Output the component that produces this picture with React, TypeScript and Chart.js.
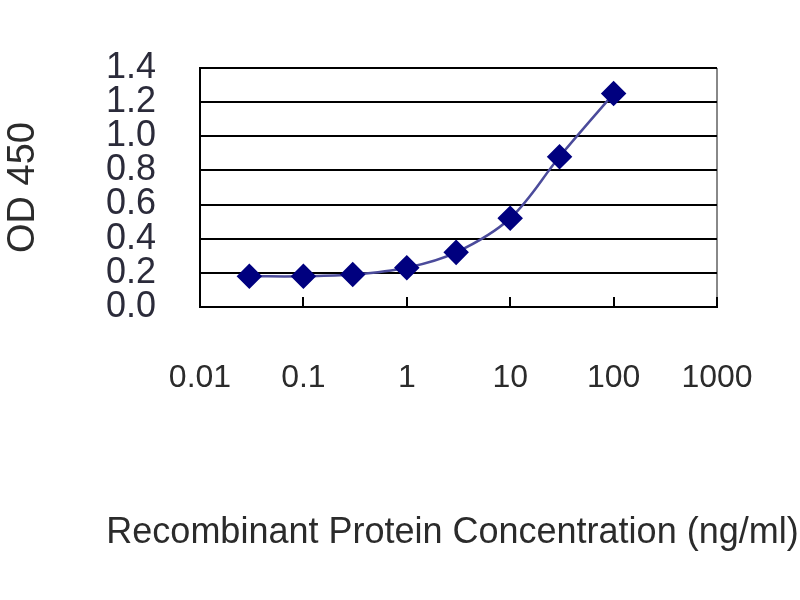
import React, { useEffect, useRef } from "react";
import { Chart, registerables } from "chart.js";

Chart.register(...registerables);

const concentrations = [0.03, 0.1, 0.3, 1, 3, 10, 30, 100];
const odValues = [0.18, 0.18, 0.19, 0.23, 0.32, 0.52, 0.88, 1.25];
const xTickValues = [0.01, 0.1, 1, 10, 100, 1000];
const xTickLabels = ["0.01", "0.1", "1", "10", "100", "1000"];
const yTitle = "OD 450";
const xTitle = "Recombinant Protein Concentration (ng/ml)";

const FONT = "'Liberation Sans', Arial, sans-serif";

const xTitlePlugin = {
  id: "xTitlePlugin",
  afterDraw(chart: any) {
    const ctx = chart.ctx;
    const area = chart.chartArea;
    ctx.save();
    ctx.font = `36px ${FONT}`;
    ctx.fillStyle = "#2b2b2b";
    ctx.textAlign = "center";
    ctx.textBaseline = "middle";
    ctx.fillText(xTitle, (area.left + area.right) / 2 - 6, 533);
    ctx.restore();
  },
};

export default function App() {
  const ref = useRef<HTMLCanvasElement | null>(null);

  useEffect(() => {
    if (!ref.current) return;
    const chart = new Chart(ref.current, {
      type: "line",
      data: {
        datasets: [
          {
            data: concentrations.map((x, i) => ({ x, y: odValues[i] })),
            borderColor: "#4b4b9b",
            borderWidth: 2.5,
            backgroundColor: "#00007f",
            pointBackgroundColor: "#00007f",
            pointBorderColor: "#00007f",
            pointStyle: "rectRot",
            pointRadius: 11,
            tension: 0.35,
            fill: false,
          },
        ],
      },
      options: {
        animation: false,
        responsive: false,
        maintainAspectRatio: false,
        layout: { padding: { top: 68, right: 83, left: 0, bottom: 0 } },
        plugins: { legend: { display: false }, tooltip: { enabled: false } },
        scales: {
          x: {
            type: "logarithmic",
            min: 0.01,
            max: 1000,
            afterBuildTicks: (scale: any) => {
              scale.ticks = xTickValues.map((v) => ({ value: v }));
            },
            afterFit: (scale: any) => {
              scale.height = 600 - 307;
              scale.paddingLeft = 0;
              scale.paddingRight = 0;
            },
            ticks: {
              autoSkip: false,
              maxRotation: 0,
              padding: 62,
              color: "#2b2b2b",
              font: { family: FONT, size: 32 },
              callback: (_v: any, i: number) => xTickLabels[i],
            },
            grid: {
              display: true,
              drawOnChartArea: true,
              drawTicks: true,
              tickLength: -10,
              lineWidth: 2,
              tickColor: "#000",
              color: (ctx: any) =>
                ctx.tick && ctx.tick.value === 1000 ? "#888" : "rgba(0,0,0,0)",
            },
            border: { display: true, color: "#000", width: 2 },
            title: { display: false },
          },
          y: {
            min: 0,
            max: 1.4,
            afterFit: (scale: any) => {
              scale.width = 200;
            },
            ticks: {
              stepSize: 0.2,
              autoSkip: false,
              padding: 44,
              color: "#2b2b3a",
              font: { family: FONT, size: 36 },
              callback: (v: any) => Number(v).toFixed(1),
            },
            grid: {
              color: "#000",
              lineWidth: 2,
              drawTicks: false,
            },
            border: { display: true, color: "#000", width: 2 },
            title: {
              display: true,
              text: yTitle,
              color: "#2b2b2b",
              font: { family: FONT, size: 38 },
              padding: { top: 1, bottom: 0 },
            },
          },
        },
      },
      plugins: [xTitlePlugin],
    });
    return () => chart.destroy();
  }, []);

  return (
    <div style={{ position: "absolute", left: 0, top: 0, width: 800, height: 600, background: "#fff" }}>
      <canvas ref={ref} width={800} height={600} />
    </div>
  );
}
